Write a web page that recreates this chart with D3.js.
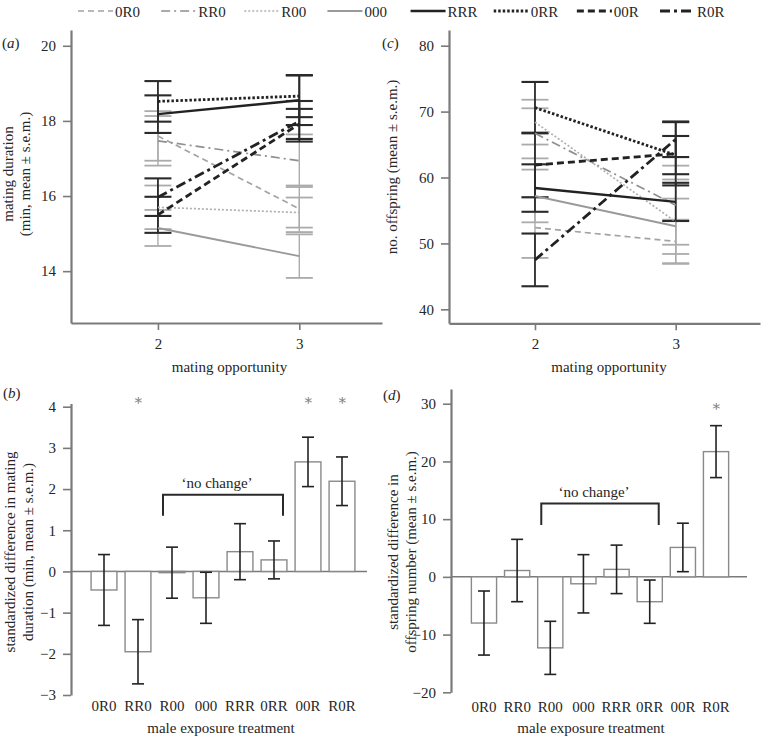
<!DOCTYPE html>
<html><head><meta charset="utf-8">
<script src="https://cdn.jsdelivr.net/npm/d3@7"></script>
<style>
body{margin:0;background:#fff}
svg, svg text{font-family:'Liberation Serif','DejaVu Serif','Noto Serif',serif}
</style></head><body>
<svg id="c" width="763" height="736" font-family="Liberation Serif, DejaVu Serif, serif"></svg>
<script>
// ---------- data ----------
const series = ["0R0","RR0","R00","000","RRR","0RR","00R","R0R"];
const opportunities = [2,3];
// (a) mating duration, mean and s.e.m. at opportunity 2 and 3
const durMean2 = [17.60, 17.47, 15.70, 15.15, 18.18, 18.52, 15.50, 15.97];
const durMean3 = [15.66, 16.94, 15.56, 14.40, 18.55, 18.66, 17.92, 17.99];
const durSem2  = [0.66, 0.66, 0.58, 0.48, 0.50, 0.54, 0.48, 0.50];
const durSem3  = [0.62, 0.70, 0.40, 0.58, 0.66, 0.56, 0.40, 0.54];
// (c) number of offspring
const offMean2 = [52.4, 66.7, 68.4, 57.2, 58.4, 70.6, 61.9, 47.5];
const offMean3 = [50.3, 55.8, 53.3, 52.6, 56.3, 63.4, 63.6, 65.8];
const offSem2  = [4.6, 3.8, 3.4, 4.0, 3.6, 3.9, 4.9, 4.0];
const offSem3  = [3.3, 6.0, 6.4, 4.2, 2.9, 2.9, 4.8, 2.7];
// (b) standardized difference in mating duration
const diffDur    = [-0.45, -1.95, -0.03, -0.64, 0.48, 0.28, 2.66, 2.19];
const diffDurSem = [0.86, 0.78, 0.62, 0.62, 0.68, 0.46, 0.60, 0.59];
// (d) standardized difference in offspring number
const diffOff    = [-8.0, 1.1, -12.3, -1.2, 1.3, -4.3, 5.1, 21.7];
const diffOffSem = [5.55, 5.4, 4.6, 5.05, 4.2, 3.75, 4.2, 4.5];
// significance and 'no change' groups
const sigDur = ["RR0","00R","R0R"];
const sigOff = ["R0R"];
const noChange = ["R00","0RR"];
const ticksA = [14,16,18,20];
const ticksC = [40,50,60,70,80];
const ticksB = [-3,-2,-1,0,1,2,3,4];
const ticksD = [-20,-10,0,10,20,30];

// ---------- styles ----------
const FONT = "Liberation Serif, DejaVu Serif, serif";
const style = {
  "0R0":{c:"#a3a3a3",w:1.7,d:"6,4",gray:true},
  "RR0":{c:"#8f8f8f",w:1.7,d:"9,4,2,4",gray:true},
  "R00":{c:"#b0b0b0",w:1.7,d:"2,2",gray:true},
  "000":{c:"#9a9a9a",w:1.9,d:null,gray:true},
  "RRR":{c:"#222",w:2.4,d:null},
  "0RR":{c:"#222",w:2.8,d:"2.5,2"},
  "00R":{c:"#222",w:2.8,d:"7,4"},
  "R0R":{c:"#222",w:2.8,d:"10,4,3,4"}
};
const axisCol = "#7a7a7a";
const svg = d3.select("#c");

function txt(sel){ return sel.attr("font-family",FONT).attr("font-size",15).attr("fill","#262626"); }

function styleAxis(g){
  g.attr("font-size",15).attr("font-family",FONT);
  g.select(".domain").attr("stroke",axisCol).attr("stroke-width",2.2);
  g.selectAll(".tick line").attr("stroke",axisCol).attr("stroke-width",1.6);
  g.selectAll(".tick text").attr("fill","#262626").attr("font-family",FONT);
}

function vTitle(lines, xs, cy){
  lines.forEach((t,i)=>{
    txt(svg.append("text")).attr("transform",`translate(${xs[i]},${cy}) rotate(-90)`)
      .attr("text-anchor","middle").attr("dy","0.33em").text(t);
  });
}
function panelLabel(letter,x,y){
  const t = txt(svg.append("text")).attr("x",x).attr("y",y);
  t.append("tspan").text("(");
  t.append("tspan").attr("font-style","italic").text(letter);
  t.append("tspan").text(")");
}

// ---------- line panels ----------
function linePanel(o){
  const x = d3.scaleLinear().domain(o.xd).range(o.xr);
  const y = d3.scaleLinear().domain(o.yd).range(o.yr);
  const g = svg.append("g");
  g.append("g").attr("transform",`translate(${o.xr[0]},0)`)
    .call(d3.axisLeft(y).tickValues(o.yt).tickSize(8).tickPadding(7).tickSizeOuter(0)).call(styleAxis);
  g.append("g").attr("transform",`translate(0,${o.yr[0]})`)
    .call(d3.axisBottom(x).tickValues(opportunities).tickSize(7).tickPadding(8).tickSizeOuter(0).tickFormat(d3.format("d"))).call(styleAxis);
  const order = series.filter(s=>style[s].gray).concat(series.filter(s=>!style[s].gray));
  const pts = s => {
    const i = series.indexOf(s);
    return opportunities.map((op,j)=>({x:op, m:o.mean[j][i], e:o.sem[j][i]}));
  };
  order.forEach(s=>{
    const st = style[s];
    const col = st.gray ? "#ababab" : "#2a2a2a";
    pts(s).forEach(p=>{
      g.append("line").attr("x1",x(p.x)).attr("x2",x(p.x)).attr("y1",y(p.m-p.e)).attr("y2",y(p.m+p.e))
        .attr("stroke",col).attr("stroke-width",st.gray?1.4:1.8);
      [p.m-p.e,p.m+p.e].forEach(v=>{
        g.append("line").attr("x1",x(p.x)-13.5).attr("x2",x(p.x)+13.5).attr("y1",y(v)).attr("y2",y(v))
          .attr("stroke",col).attr("stroke-width",st.gray?1.8:2.1);
      });
    });
  });
  const line = d3.line().x(d=>x(d.x)).y(d=>y(d.m));
  order.forEach(s=>{
    const st = style[s];
    g.append("path").attr("d",line(pts(s))).attr("fill","none").attr("stroke",st.c)
      .attr("stroke-width",st.w).attr("stroke-dasharray",st.d);
  });
}

linePanel({xd:[1.385,3.585], xr:[71,382], yd:[12.62,20.42], yr:[323,30], yt:ticksA,
  mean:[durMean2,durMean3], sem:[durSem2,durSem3]});
linePanel({xd:[1.389,3.599], xr:[449,760], yd:[37.88,82.38], yr:[323.3,30], yt:ticksC,
  mean:[offMean2,offMean3], sem:[offSem2,offSem3]});

// ---------- bar panels ----------
function barPanel(o){
  const x = d3.scaleBand().domain(series).range(o.xr).paddingInner(0.24).paddingOuter(0.12);
  const y = d3.scaleLinear().domain(o.yd).range(o.yr);
  const g = svg.append("g");
  g.append("g").attr("transform",`translate(${o.ax},0)`)
    .call(d3.axisLeft(y).tickValues(o.yt).tickSize(8).tickPadding(7).tickSizeOuter(0)).call(styleAxis);
  const xa = g.append("g").attr("transform",`translate(0,${o.yr[0]})`)
    .call(d3.axisBottom(x).tickSize(0).tickPadding(o.xpad)).call(styleAxis);
  xa.select(".domain").remove();
  g.append("line").attr("x1",o.ax).attr("x2",o.zeroEnd).attr("y1",y(0)).attr("y2",y(0))
    .attr("stroke",axisCol).attr("stroke-width",1.5);
  series.forEach((s,i)=>{
    const v = o.vals[i], e = o.sem[i], cx = x(s)+x.bandwidth()/2;
    g.append("rect").attr("x",x(s)).attr("width",x.bandwidth())
      .attr("y",Math.min(y(v),y(0))).attr("height",Math.abs(y(v)-y(0)))
      .attr("fill","#fff").attr("stroke","#8a8a8a").attr("stroke-width",1.4);
    g.append("line").attr("x1",cx).attr("x2",cx).attr("y1",y(v-e)).attr("y2",y(v+e))
      .attr("stroke","#222").attr("stroke-width",1.6);
    [v-e,v+e].forEach(w=>g.append("line").attr("x1",cx-6).attr("x2",cx+6).attr("y1",y(w)).attr("y2",y(w))
      .attr("stroke","#222").attr("stroke-width",1.6));
  });
  o.sig.forEach(s=>{
    txt(g.append("text")).attr("x",x(s)+x.bandwidth()/2).attr("y",y(o.sigY)).attr("dy","0.28em")
      .attr("text-anchor","middle").attr("fill","#808080").text("\u2217");
  });
  const bx0 = x(noChange[0])+x.bandwidth()/2-9, bx1 = x(noChange[1])+x.bandwidth()/2+9;
  g.append("path").attr("d",`M${bx0},${y(o.brLow)}V${y(o.brTop)}H${bx1}V${y(o.brLow)}`)
    .attr("fill","none").attr("stroke","#2a2a2a").attr("stroke-width",2);
  txt(g.append("text")).attr("x",(bx0+bx1)/2-6).attr("y",y(o.brTop)-6.5).attr("text-anchor","middle")
    .text("\u2018no change\u2019");
  txt(g.append("text")).attr("x",(o.xr[0]+o.xr[1])/2+(o.tOff||0)).attr("y",733).attr("text-anchor","middle")
    .text("male exposure treatment");
}

barPanel({xr:[87,359], ax:71, zeroEnd:367, yd:[-3,4.08], yr:[695,403.4], yt:ticksB, xpad:5,
  vals:diffDur, sem:diffDurSem, sig:sigDur, sigY:4.15, brTop:1.86, brLow:1.35, tOff:-2});
barPanel({xr:[467.4,732.6], ax:451, zeroEnd:747, yd:[-20,32.55], yr:[692.3,389], yt:ticksD, xpad:9,
  vals:diffOff, sem:diffOffSem, sig:sigOff, sigY:29.5, brTop:12.7, brLow:9.0, tOff:-9});

// ---------- titles ----------
txt(svg.append("text")).attr("x",229.5).attr("y",372).attr("text-anchor","middle").text("mating opportunity");
txt(svg.append("text")).attr("x",609).attr("y",372).attr("text-anchor","middle").text("mating opportunity");
vTitle(["mating duration","(min, mean \u00b1 s.e.m.)"],[8.5,25.5],174);
vTitle(["no. offspring (mean \u00b1 s.e.m.)"],[392],167);
vTitle(["standardized difference in mating","duration (min, mean \u00b1 s.e.m.)"],[10,28.5],552);
vTitle(["standardized difference in","offspring number (mean \u00b1 s.e.m.)"],[393.5,411.5],552);
panelLabel("a",2,48);
panelLabel("c",382,48);
panelLabel("b",3,398);
panelLabel("d",383,400);

// ---------- legend ----------
const lx = d3.scalePoint().domain(series).range([78,660]);
series.forEach(s=>{
  const st = style[s], x0 = lx(s);
  svg.append("line").attr("x1",x0).attr("x2",x0+35).attr("y1",11).attr("y2",11)
    .attr("stroke",st.c).attr("stroke-width",st.w).attr("stroke-dasharray",st.d);
  txt(svg.append("text")).attr("x",x0+37).attr("y",16.5).text(s);
});
</script>
</body></html>
